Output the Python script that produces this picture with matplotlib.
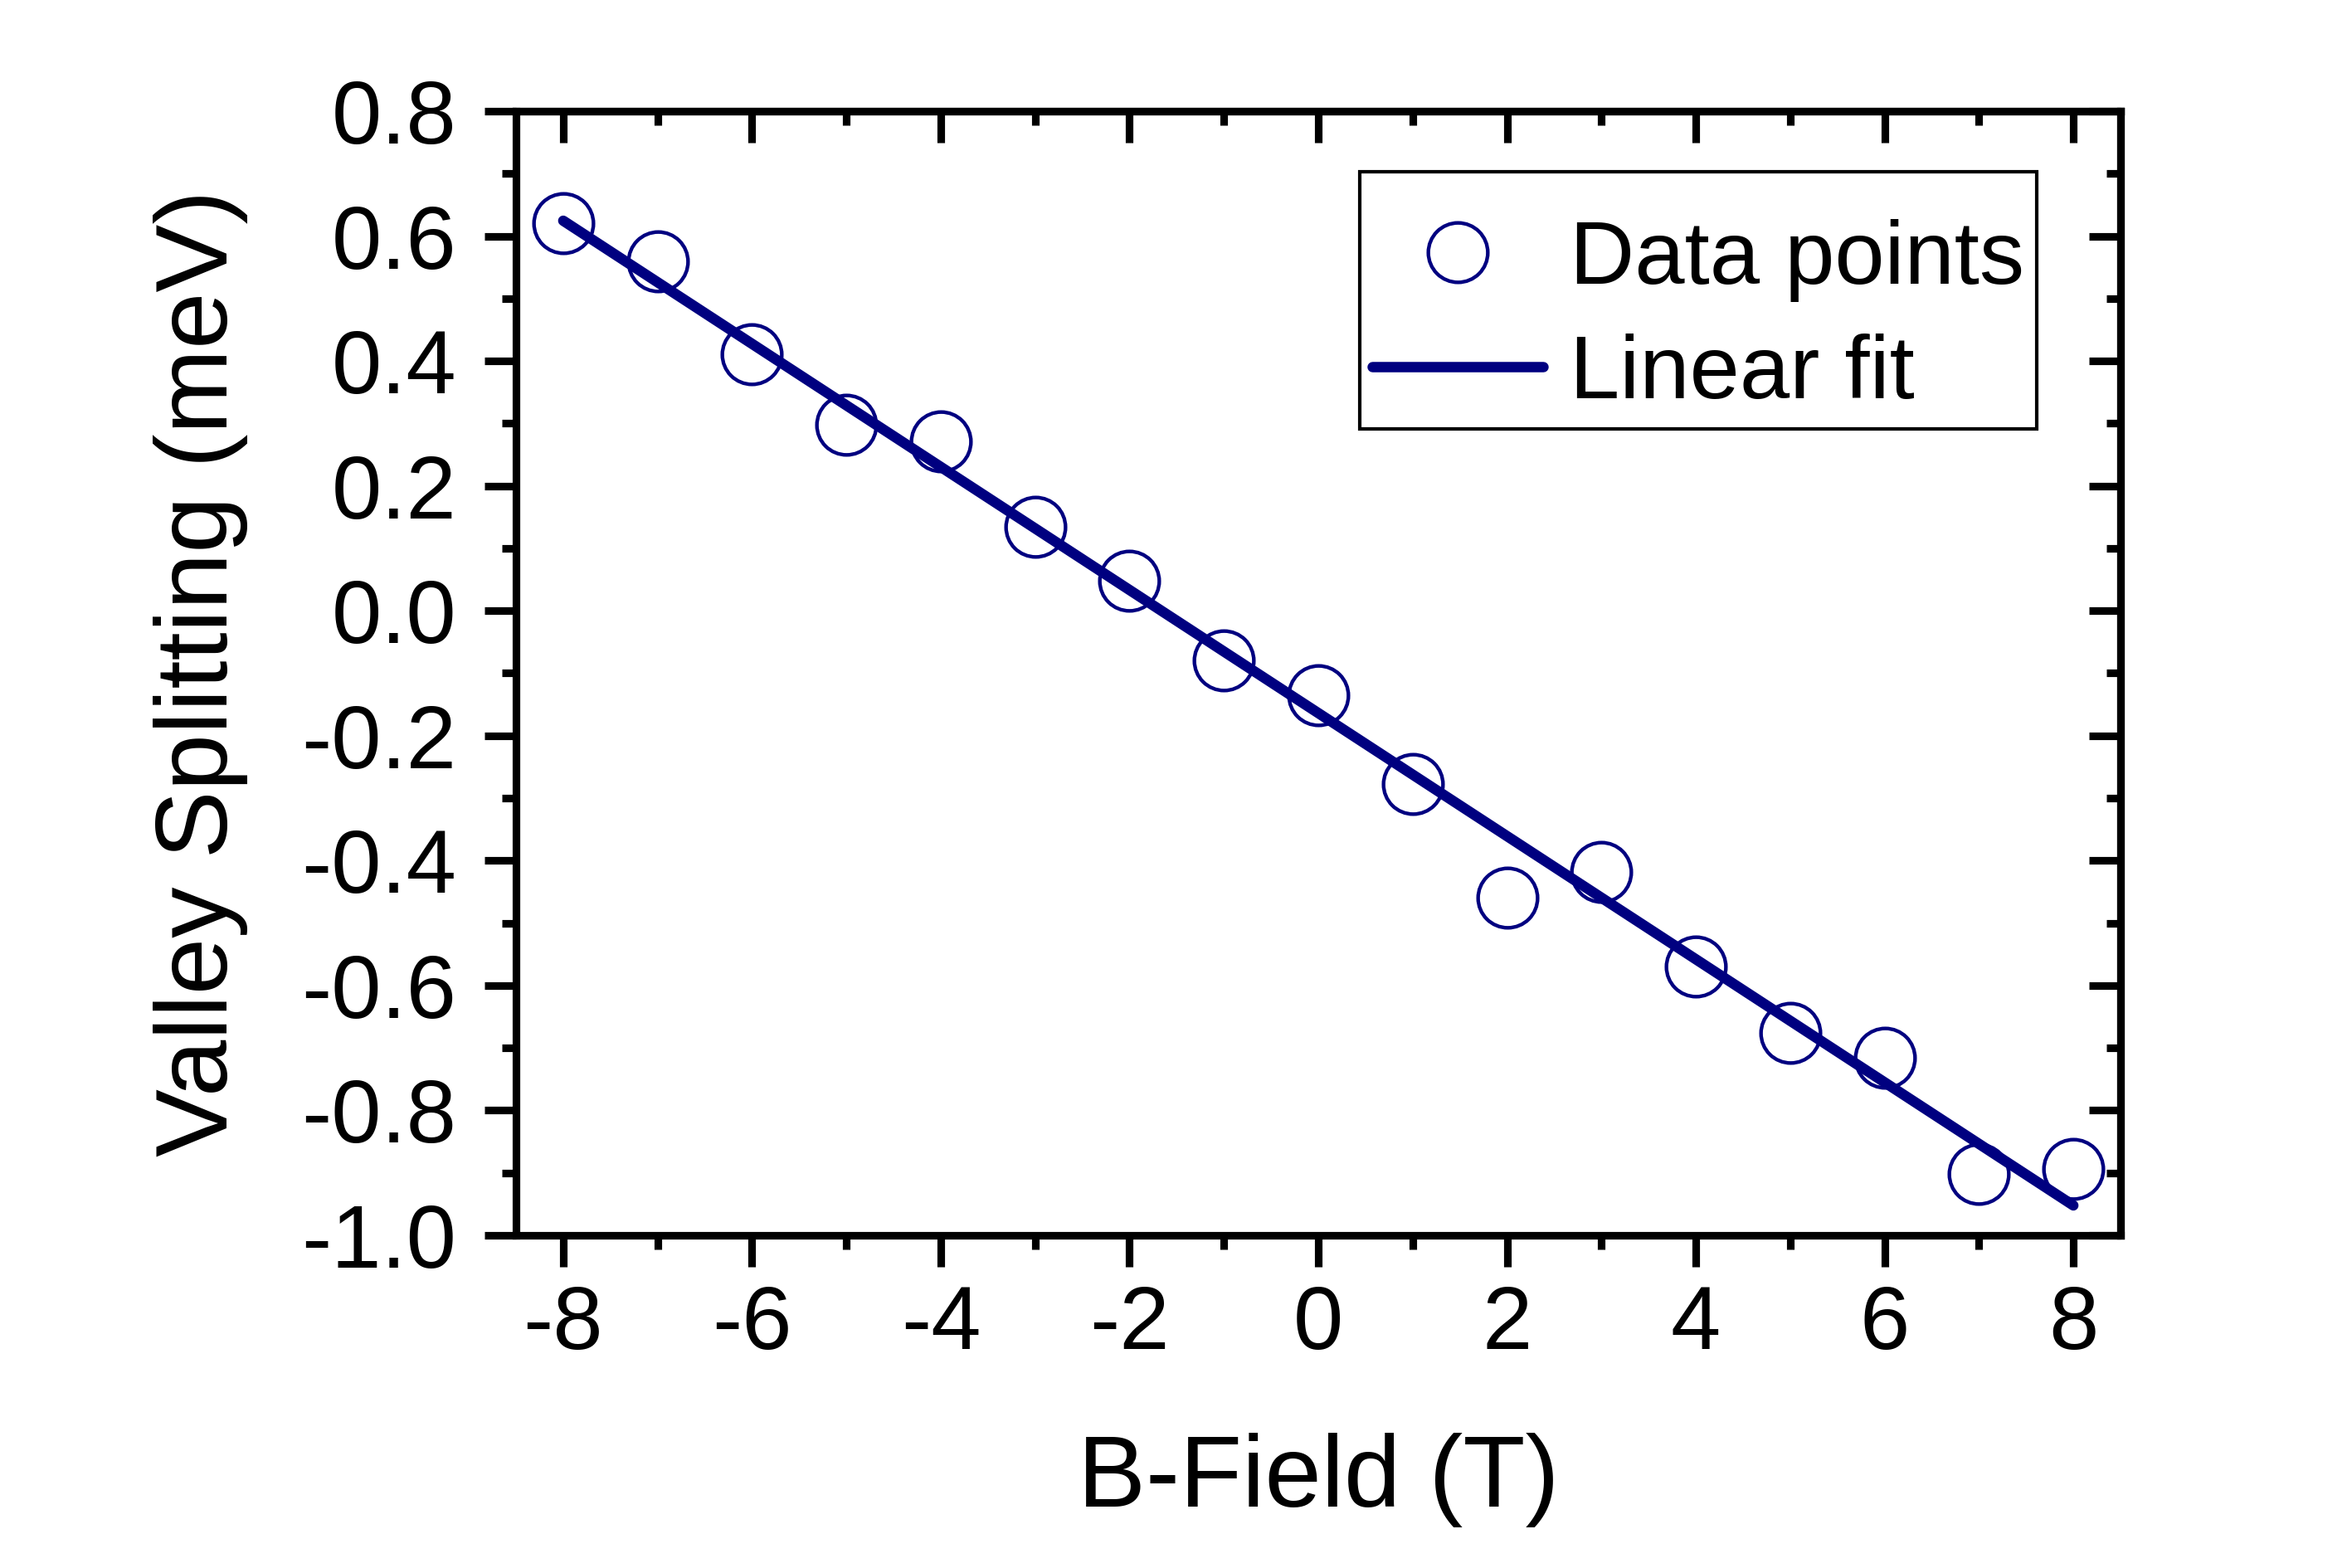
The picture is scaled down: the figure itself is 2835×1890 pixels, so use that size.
import numpy as np
import matplotlib
matplotlib.use("Agg")
import matplotlib.pyplot as plt
from matplotlib.ticker import MultipleLocator

plt.rcParams['font.family'] = ['Liberation Sans', 'DejaVu Sans']
plt.rcParams['axes.unicode_minus'] = False

# Data
b_field = [-8, -7, -6, -5, -4, -3, -2, -1, 0, 1, 2, 3, 4, 5, 6, 7, 8]
splitting = [0.620, 0.560, 0.411, 0.298, 0.271, 0.134, 0.048, -0.080, -0.135,
             -0.277, -0.459, -0.418, -0.570, -0.676, -0.716, -0.902, -0.894]

x = np.array(b_field, dtype=float)
y = np.array(splitting, dtype=float)
slope, intercept = np.polyfit(x, y, 1)
xfit = np.array([x.min(), x.max()])
yfit = slope * xfit + intercept

navy = '#000080'

fig = plt.figure(figsize=(9.45, 6.3), dpi=300)
ax = fig.add_axes([0.2194, 0.2122, 0.9016 - 0.2194, 0.9291 - 0.2122])

ax.plot(x, y, linestyle='none', marker='o', markersize=17.2,
        markerfacecolor='none', markeredgecolor=navy, markeredgewidth=1.05,
        label='Data points', zorder=3)
ax.plot(xfit, yfit, color=navy, linewidth=3.0, label='Linear fit', zorder=2,
        solid_capstyle='round')

ax.set_xlim(-8.5, 8.5)
ax.set_ylim(-1.0, 0.8)
ax.xaxis.set_major_locator(MultipleLocator(2))
ax.xaxis.set_minor_locator(MultipleLocator(1))
ax.yaxis.set_major_locator(MultipleLocator(0.2))
ax.yaxis.set_minor_locator(MultipleLocator(0.1))
ax.yaxis.set_major_formatter(matplotlib.ticker.FormatStrFormatter('%.1f'))

for sp in ax.spines.values():
    sp.set_linewidth(2.2)

ax.tick_params(which='both', width=2.2, labelsize=26)
ax.tick_params(which='major', length=9.2)
ax.tick_params(which='minor', length=4.1)
ax.tick_params(axis='x', which='both', direction='out', bottom=True, top=False, pad=5)
ax.tick_params(axis='y', which='both', direction='out', left=True, right=False, pad=8)

# inward ticks on top and right
axt = ax.secondary_xaxis('top')
axt.set_xticks(np.arange(-8, 9, 2))
axt.xaxis.set_minor_locator(MultipleLocator(1))
axt.tick_params(which='both', direction='in', width=2.2, labeltop=False)
axt.tick_params(which='major', length=9.2)
axt.tick_params(which='minor', length=4.1)
axt.spines['top'].set_linewidth(2.2)
axr = ax.secondary_yaxis('right')
axr.yaxis.set_major_locator(MultipleLocator(0.2))
axr.yaxis.set_minor_locator(MultipleLocator(0.1))
axr.tick_params(which='both', direction='in', width=2.2, labelright=False)
axr.tick_params(which='major', length=9.2)
axr.tick_params(which='minor', length=4.1)
axr.spines['right'].set_linewidth(2.2)

ax.set_xlabel('B-Field (T)', fontsize=29.5, labelpad=19)
ax.set_ylabel('Valley Splitting (meV)', fontsize=29.5, labelpad=15.5)

leg = ax.legend(loc='upper right', bbox_to_anchor=(0.948, 0.946),
                borderaxespad=0, fontsize=26, handlelength=1.9,
                handletextpad=0.3, borderpad=0.14, labelspacing=0.35,
                title=' ', title_fontsize=0.8,
                fancybox=False, framealpha=1, edgecolor='black')
leg.get_frame().set_linewidth(1.0)

fig.savefig('out.png', dpi=300)
